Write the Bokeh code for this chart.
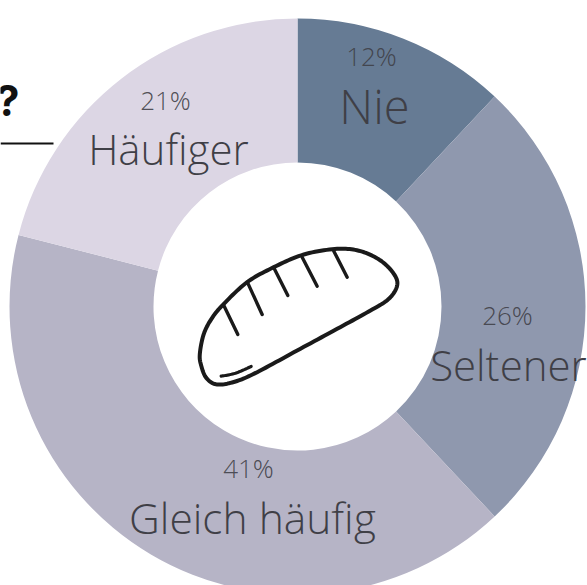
import numpy as np
from bokeh.plotting import figure
from bokeh.models import Range1d
from bokeh.core.properties import value
from bokeh.embed import file_html
from bokeh.resources import INLINE

categories = ["Nie", "Seltener", "Gleich häufig", "Häufiger"]
shares = [12, 26, 41, 21]
colors = ["#667b94", "#8f98ae", "#b6b4c6", "#dcd6e4"]

W, H = 587, 585
CX, CY, R0, R1 = 297, 306, 144, 288
FONT = "Open Sans Light"
TXT = "#3f3f46"

p = figure(width=W, height=H, output_backend="svg", toolbar_location=None,
           x_range=Range1d(0, W), y_range=Range1d(0, H), min_border=0,
           x_axis_type=None, y_axis_type=None, outline_line_color=None)
p.grid.visible = False

Y = lambda y: H - y

cum = np.cumsum([0] + shares) / sum(shares) * 2 * np.pi
starts = np.pi / 2 - cum[1:]
ends = np.pi / 2 - cum[:-1]
p.annular_wedge([CX] * 4, [Y(CY)] * 4, inner_radius=R0, outer_radius=R1,
                start_angle=starts, end_angle=ends, fill_color=colors, line_color=None)

pct_pos = [(371, 55), (507, 314), (248, 467), (165, 99)]
lab_pos = [(374, 105), (508, 364), (252, 517), (168, 148)]
lab_size = ["47px", "42px", "42.5px", "42px"]
for c, s, a, b, fs in zip(categories, shares, pct_pos, lab_pos, lab_size):
    p.text([a[0]], [Y(a[1])], text=[f"{s}%"], text_font=value(FONT), text_font_size="26px",
           text_color=TXT, text_align="center", text_baseline="middle", text_alpha=0.9)
    p.text([b[0]], [Y(b[1])], text=[c], text_font=value(FONT), text_font_size=fs,
           text_color=TXT, text_align="center", text_baseline="middle")

p.text([19], [Y(100)], text=["?"], text_font=value("Inter"), text_font_size="42px",
       text_font_style="bold", text_color="#111111", text_align="right", text_baseline="middle")
p.line([0, 53], [Y(143), Y(143)], line_color="#111111", line_width=1.8)

# bread icon, traced in zoom-crop coordinates
def bx(v): return 180 + np.asarray(v, float) / 3
def by(v): return H - (230 + np.asarray(v, float) / 3)

def smooth(pts, closed=False, n=12):
    pts = np.asarray(pts, float)
    m = len(pts)
    out = []
    segs = m if closed else m - 1
    for i in range(segs):
        if closed:
            a, b, c, d = pts[(i - 1) % m], pts[i], pts[(i + 1) % m], pts[(i + 2) % m]
        else:
            a, b, c, d = pts[max(i - 1, 0)], pts[i], pts[i + 1], pts[min(i + 2, m - 1)]
        for t in np.linspace(0, 1, n, endpoint=False):
            out.append(0.5 * (2 * b + (c - a) * t + (2 * a - 5 * b + 4 * c - d) * t**2 + (3 * b - a - 3 * c + d) * t**3))
    out.append(pts[0] if closed else pts[-1])
    return np.array(out)

outline = [(58, 370), (70, 310), (95, 262), (130, 220), (200, 155), (280, 110), (370, 72), (470, 55),
           (540, 62), (600, 90), (640, 130), (650, 165), (625, 205), (570, 240), (470, 295), (350, 360),
           (230, 425), (165, 453), (110, 462), (78, 443), (62, 405)]
slashes = [[(130, 225), (172, 312)], [(203, 160), (245, 252)], [(280, 112), (322, 195)],
           [(365, 80), (410, 167)], [(460, 62), (500, 140)]]
shine = [(122, 437), (165, 428), (212, 408)]
ink = "#1a1a1a"
o = smooth(outline, closed=True)
p.line(bx(o[:, 0]), by(o[:, 1]), line_color=ink, line_width=4, line_join="round")
for s in slashes:
    s = np.array(s)
    p.line(bx(s[:, 0]), by(s[:, 1]), line_color=ink, line_width=3.4, line_cap="round")
sh = smooth(shine)
p.line(bx(sh[:, 0]), by(sh[:, 1]), line_color=ink, line_width=3.2, line_cap="round")

open("out.html", "w").write(file_html(p, INLINE))
